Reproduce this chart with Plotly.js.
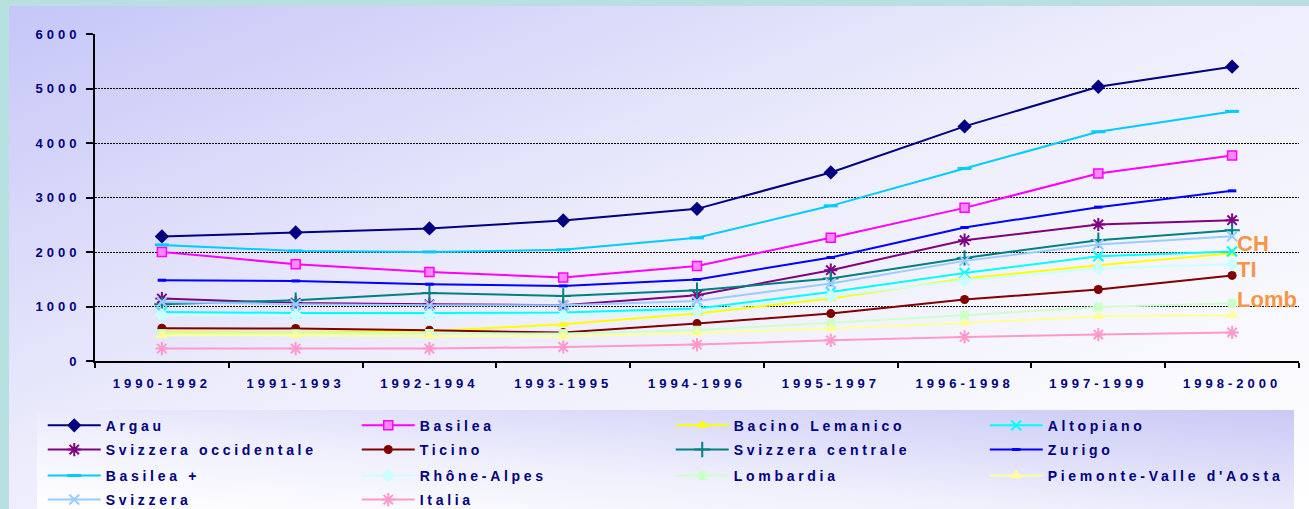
<!DOCTYPE html>
<html><head><meta charset="utf-8">
<script src="https://cdn.plot.ly/plotly-3.0.1.min.js"></script>
<style>
html,body{margin:0;padding:0;width:1309px;height:509px;overflow:hidden;background:#b9e0e0;}
#bg{position:absolute;left:9px;top:6px;width:1300px;height:503px;background:linear-gradient(to bottom right,#c6c6f8 0%,#ececfc 45%,#ffffff 100%);}
#lg{position:absolute;left:37px;top:410px;width:1257px;height:99px;background:linear-gradient(to top right,#ffffff 0%,#f0f0fd 40%,#c9c9f6 100%);}
#chart{position:absolute;left:0;top:0;width:1309px;height:509px;}
#chart text{letter-spacing:3.7px;}
#chart .xtick text,#chart .ytick text{letter-spacing:4px;}
#chart .annotation-text{letter-spacing:0px;}
</style></head>
<body>
<div id="bg"></div>
<div id="lg"></div>
<div id="chart"></div>
<script>
const categories = ['1990-1992','1991-1993','1992-1994','1993-1995','1994-1996','1995-1997','1996-1998','1997-1999','1998-2000'];
const seriesNames = ['Argau','Basilea','Bacino Lemanico','Altopiano','Svizzera occidentale','Ticino','Svizzera centrale','Zurigo','Basilea +','Rhône-Alpes','Lombardia',"Piemonte-Valle d'Aosta",'Svizzera','Italia'];
const argau = [2285,2358,2432,2578,2792,3460,4305,5032,5400];
const basilea = [2002,1776,1635,1531,1745,2260,2810,3442,3772];
const bacinoLemanico = [533,521,545,674,870,1146,1513,1758,1975];
const altopiano = [900,882,882,889,962,1267,1616,1923,2010];
const svizzeraOccidentale = [1146,1065,1041,1023,1207,1666,2217,2505,2584];
const ticino = [600,598,564,521,686,870,1128,1311,1570];
const svizzeraCentrale = [1041,1115,1249,1194,1298,1513,1892,2217,2400];
const zurigo = [1482,1469,1409,1378,1495,1899,2450,2823,3122];
const basileaPlus = [2130,2020,2002,2040,2260,2847,3533,4206,4580];
const rhoneAlpes = [839,839,839,827,918,1188,1482,1697,1775];
const lombardia = [503,500,505,503,564,698,839,992,1060];
const piemonte = [472,472,454,454,515,595,698,821,840];
const svizzera = [1084,1041,1023,1023,1102,1421,1837,2138,2290];
const italia = [228,228,228,257,301,380,441,485,525];
const annotationLabels = ['CH','TI','Lomb'];
const annotationValues = [2162,1684,1133];

const values = [argau,basilea,bacinoLemanico,altopiano,svizzeraOccidentale,ticino,svizzeraCentrale,zurigo,basileaPlus,rhoneAlpes,lombardia,piemonte,svizzera,italia];
const styles = [
  {c:'#000080', m:{symbol:'diamond', size:11, color:'#000080'}},
  {c:'#ff00ff', m:{symbol:'square', size:9, color:'#ff88ff', line:{color:'#ff00ff', width:1.5}}},
  {c:'#ffff00', m:{symbol:'triangle-up', size:10, color:'#ffff00'}},
  {c:'#00ffff', m:{symbol:'x-thin-open', size:10, color:'#00ffff', line:{color:'#00ffff', width:2}}},
  {c:'#800080', m:{symbol:'asterisk-open', size:11, color:'#800080', line:{color:'#800080', width:2}}},
  {c:'#800000', m:{symbol:'circle', size:9, color:'#800000'}},
  {c:'#008080', m:{symbol:'cross-thin-open', size:11, color:'#008080', line:{color:'#008080', width:2}}},
  {c:'#0000ff', m:{symbol:'line-ew-open', size:6, color:'#0000ff', line:{color:'#0000ff', width:3}}},
  {c:'#00ccff', m:{symbol:'line-ew-open', size:10, color:'#00ccff', line:{color:'#00ccff', width:3}}},
  {c:'#ccffff', m:{symbol:'diamond', size:11, color:'#ccffff'}},
  {c:'#ccffcc', m:{symbol:'square', size:9, color:'#ccffcc'}},
  {c:'#ffff99', m:{symbol:'triangle-up', size:11, color:'#ffff99'}},
  {c:'#99ccff', m:{symbol:'x-thin-open', size:10, color:'#99ccff', line:{color:'#99ccff', width:2}}},
  {c:'#ff99cc', m:{symbol:'asterisk-open', size:11, color:'#ff99cc', line:{color:'#ff99cc', width:2}}}
];
const legendIds = ['legend','legend2','legend3','legend4'];
const traces = values.map((v,i)=>({
  type:'scatter', mode:'lines+markers', x:categories, y:v, name:seriesNames[i],
  line:{color:styles[i].c, width:2}, marker:styles[i].m,
  legend: legendIds[Math.floor(i/4)], cliponaxis:false
}));

const legFont = {family:'Arial, Liberation Sans, sans-serif', size:14, color:'#000080', weight:'bold'};
const rowY = [-0.198,-0.272,-0.351,-0.425];
function leg(k){
  return {orientation:'h', x:-0.0434, xanchor:'left', y:rowY[k], yanchor:'middle',
    bgcolor:'rgba(0,0,0,0)', font:legFont, entrywidth:246, entrywidthmode:'pixels', itemwidth:53, traceorder:'normal'};
}
const tickFont = {family:'Arial, Liberation Sans, sans-serif', size:13, color:'#000080', weight:'bold'};
const layout = {
  width:1309, height:509,
  margin:{l:95, r:10, t:34, b:148, autoexpand:false},
  paper_bgcolor:'rgba(0,0,0,0)', plot_bgcolor:'rgba(0,0,0,0)',
  showlegend:true,
  xaxis:{type:'category', tickson:'boundaries', ticks:'outside', ticklen:5, tickwidth:2, tickcolor:'#000',
    showline:true, linecolor:'#000', linewidth:2, showgrid:false, tickfont:tickFont, range:[-0.5,8.5],
    ticklabelstandoff:9, fixedrange:true, automargin:false},
  yaxis:{range:[0,6000], dtick:1000, ticks:'outside', ticklen:7, tickwidth:2, tickcolor:'#000',
    showline:true, linecolor:'#000', linewidth:2, showgrid:true, gridcolor:'#000', gridwidth:1, griddash:'2px,1px',
    zeroline:false, tickfont:tickFont, ticklabelstandoff:3, fixedrange:true, automargin:false},
  legend:leg(0), legend2:leg(1), legend3:leg(2), legend4:leg(3),
  annotations: annotationLabels.map((t,i)=>({text:t, xref:'paper', yref:'y', x:0.947, y:annotationValues[i],
    xanchor:'left', yanchor:'middle', showarrow:false,
    font:{family:'Arial, Liberation Sans, sans-serif', size:22, color:'#f79646', weight:'bold'}}))
};
Plotly.newPlot('chart', traces, layout, {displayModeBar:false});
</script>
</body></html>
